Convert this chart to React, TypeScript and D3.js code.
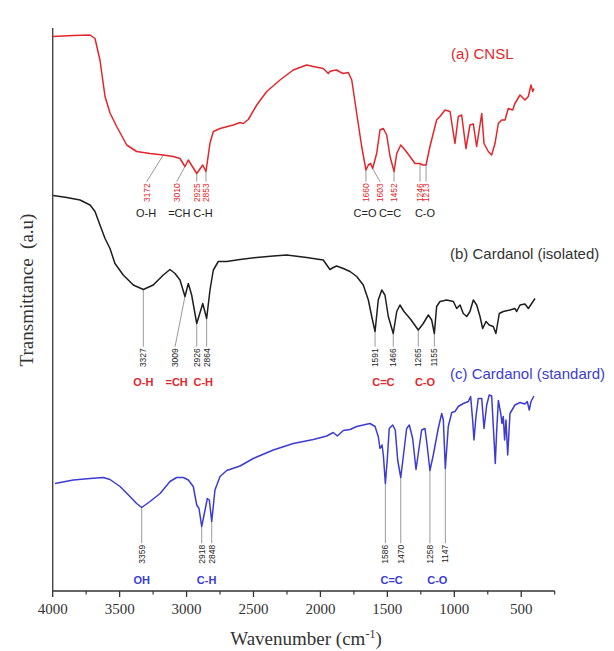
import React from "react";
import * as d3 from "d3";

type Pt = [number, number];
type Peak = { label: string; at: number; foot: number };
type Group = { text: string; at: number };

const xTicks = [4000, 3500, 3000, 2500, 2000, 1500, 1000, 500];
const xMinorTicks = [3750, 3250, 2750, 2250, 1750, 1250, 750, 250];

const seriesNames = ["(a) CNSL", "(b) Cardanol (isolated)", "(c) Cardanol (standard)"];

// (a) CNSL  [wavenumber, transmittance a.u.]
const cnsl: Pt[] = [
  [4000, 110.9], [3846, 111.1], [3721, 111.2], [3684, 110.5], [3647, 106.2], [3609, 98.9], [3572, 95.6],
  [3522, 92.9], [3447, 89.2], [3373, 87.9], [3273, 87.5], [3174, 87.2], [3099, 86.9], [3049, 86.5],
  [3012, 84.9], [2987, 86.2], [2924, 83.5], [2879, 85.2], [2855, 83.9], [2825, 89.6], [2800, 91.9],
  [2750, 92.5], [2651, 93.2], [2601, 93.7], [2576, 93.5], [2539, 94.3], [2476, 97.2], [2401, 99.9],
  [2302, 102.2], [2203, 104.2], [2103, 105.2], [2053, 104.9], [1979, 104.5], [1941, 103.5], [1929, 103.9],
  [1904, 104.1], [1879, 104.2], [1854, 103.8], [1829, 103.5], [1792, 103.7], [1766, 102.2], [1729, 95.5],
  [1692, 88.9], [1660, 84.2], [1642, 85.2], [1625, 85.5], [1610, 84.5], [1580, 87.5], [1555, 92.2],
  [1530, 92.5], [1505, 91.2], [1480, 86.9], [1450, 83.9], [1430, 87.5], [1400, 89.2], [1368, 88.2],
  [1331, 86.9], [1294, 85.5], [1256, 85.5], [1236, 85.2], [1211, 85.2], [1182, 88.9], [1132, 94.2],
  [1107, 94.9], [1069, 96.2], [1032, 95.9], [995, 89.5], [970, 94.9], [945, 95.2], [913, 88.5],
  [883, 93.2], [858, 93.4], [833, 88.9], [795, 95.5], [778, 89.5], [746, 87.9], [721, 87.2], [696, 89.5],
  [671, 93.5], [646, 94.2], [621, 94.2], [597, 96.5], [564, 96.2], [547, 97.5], [509, 99.2], [472, 98.2],
  [447, 98.9], [427, 101.2], [414, 99.9], [405, 100.5],
];

// (b) Cardanol (isolated)
const isolated: Pt[] = [
  [3996, 79.1], [3895, 78.7], [3796, 78.2], [3721, 77.2], [3684, 75.9], [3647, 73.2], [3609, 70.5],
  [3572, 68.5], [3535, 65.5], [3473, 63.2], [3398, 61.2], [3323, 60.3], [3249, 61.2], [3174, 63.2],
  [3124, 64.3], [3086, 63.5], [3049, 62.2], [3012, 58.9], [2987, 61.5], [2962, 59.2], [2924, 53.5],
  [2879, 57.5], [2850, 54.5], [2825, 60.2], [2800, 64.2], [2763, 65.9], [2700, 65.9], [2601, 66.3],
  [2476, 66.7], [2352, 67.0], [2252, 67.2], [2103, 66.7], [1979, 66.2], [1929, 64.3], [1904, 64.7],
  [1879, 65.0], [1829, 64.5], [1779, 63.9], [1729, 62.9], [1680, 61.2], [1642, 58.2], [1617, 54.9],
  [1592, 51.9], [1568, 58.2], [1542, 60.2], [1518, 59.2], [1493, 54.9], [1456, 51.5], [1430, 55.9],
  [1406, 57.2], [1376, 55.9], [1331, 54.5], [1269, 52.2], [1232, 53.5], [1194, 55.2], [1169, 54.2],
  [1149, 51.5], [1132, 56.9], [1107, 57.9], [1057, 58.2], [1007, 57.9], [982, 56.5], [957, 57.2],
  [933, 55.5], [907, 54.9], [883, 55.9], [858, 58.2], [833, 57.2], [808, 54.9], [788, 52.5], [763, 53.9],
  [739, 53.2], [709, 52.9], [689, 51.5], [664, 55.5], [634, 55.9], [584, 56.2], [547, 56.5], [534, 55.9],
  [509, 57.2], [472, 57.4], [447, 56.5], [422, 57.5], [397, 58.5],
];

// (c) Cardanol (standard)
const standard: Pt[] = [
  [3983, 21.5], [3846, 22.2], [3721, 22.5], [3622, 22.7], [3572, 22.3], [3497, 20.9], [3423, 18.9],
  [3373, 17.5], [3335, 16.7], [3273, 17.9], [3198, 19.5], [3124, 21.9], [3074, 22.7], [3024, 22.7],
  [2987, 22.2], [2950, 20.9], [2924, 17.2], [2907, 16.5], [2887, 12.9], [2862, 16.2], [2845, 18.5],
  [2830, 18.2], [2812, 13.9], [2788, 20.2], [2750, 22.9], [2700, 24.1], [2601, 25.0], [2502, 26.5],
  [2352, 28.2], [2203, 29.5], [2053, 30.3], [1953, 31.0], [1904, 31.7], [1874, 31.0], [1854, 31.5],
  [1829, 32.1], [1779, 32.3], [1729, 32.9], [1680, 33.2], [1630, 33.5], [1592, 32.9], [1568, 30.9],
  [1555, 28.5], [1540, 29.2], [1530, 27.2], [1515, 21.5], [1501, 26.2], [1486, 32.5], [1460, 33.2],
  [1441, 32.2], [1423, 26.2], [1400, 22.7], [1381, 26.9], [1356, 32.5], [1336, 33.2], [1311, 30.5],
  [1286, 24.3], [1269, 27.5], [1244, 32.2], [1219, 32.5], [1202, 28.9], [1182, 24.1], [1157, 27.2],
  [1120, 32.5], [1094, 35.5], [1082, 34.2], [1067, 24.5], [1045, 32.9], [1019, 35.7], [995, 35.9],
  [970, 36.9], [933, 37.5], [895, 37.9], [878, 38.9], [863, 34.2], [853, 30.2], [838, 34.9], [821, 38.5],
  [795, 38.5], [778, 32.5], [758, 37.2], [739, 39.2], [721, 39.0], [703, 30.2], [694, 25.5], [683, 32.2],
  [671, 38.1], [653, 35.5], [644, 33.5], [634, 34.9], [624, 30.2], [614, 34.2], [601, 27.2], [584, 35.5],
  [547, 37.2], [509, 37.7], [472, 37.4], [455, 37.9], [440, 36.2], [427, 37.9], [405, 39.0],
];

const cnslPeaks: Peak[] = [
  { label: "3172", at: 3174, foot: 3298 },
  { label: "3010", at: 3012, foot: 3074 },
  { label: "2925", at: 2924, foot: 2924 },
  { label: "2853", at: 2855, foot: 2855 },
  { label: "1660", at: 1660, foot: 1660 },
  { label: "1603", at: 1610, foot: 1555 },
  { label: "1452", at: 1450, foot: 1450 },
  { label: "1246", at: 1256, foot: 1256 },
  { label: "1213", at: 1211, foot: 1211 },
];
const isolatedPeaks: Peak[] = [
  { label: "3327", at: 3323, foot: 3323 },
  { label: "3009", at: 3012, foot: 3086 },
  { label: "2926", at: 2924, foot: 2924 },
  { label: "2864", at: 2850, foot: 2850 },
  { label: "1591", at: 1592, foot: 1592 },
  { label: "1466", at: 1456, foot: 1456 },
  { label: "1265", at: 1269, foot: 1269 },
  { label: "1155", at: 1149, foot: 1149 },
];
const standardPeaks: Peak[] = [
  { label: "3359", at: 3335, foot: 3335 },
  { label: "2918", at: 2887, foot: 2887 },
  { label: "2848", at: 2812, foot: 2812 },
  { label: "1586", at: 1515, foot: 1515 },
  { label: "1470", at: 1400, foot: 1400 },
  { label: "1258", at: 1182, foot: 1182 },
  { label: "1147", at: 1067, foot: 1067 },
];

const cnslGroups: Group[] = [
  { text: "O-H", at: 3303 }, { text: "=CH", at: 3054 }, { text: "C-H", at: 2877 },
  { text: "C=O", at: 1667 }, { text: "C=C", at: 1480 }, { text: "C-O", at: 1219 },
];
const isolatedGroups: Group[] = [
  { text: "O-H", at: 3323 }, { text: "=CH", at: 3074 }, { text: "C-H", at: 2875 },
  { text: "C=C", at: 1530 }, { text: "C-O", at: 1219 },
];
const standardGroups: Group[] = [
  { text: "OH", at: 3335 }, { text: "C-H", at: 2850 }, { text: "C=C", at: 1468 }, { text: "C-O", at: 1127 },
];

const RED = "#e3262b";
const BLACK = "#1e1e1e";
const BLUE = "#3c3cd2";
const SANS = "'Liberation Sans', Arial, sans-serif";
const SERIF = "'Liberation Serif', 'Times New Roman', serif";

const W = 614;
const H = 651;
const x = d3.scaleLinear().domain([4000, 250]).range([52.7, 554.7]);
const y = d3.scaleLinear().domain([0, 114]).range([591, 21]);

function valueAt(data: Pt[], wn: number): number {
  for (let i = 0; i < data.length - 1; i++) {
    const [w0, v0] = data[i];
    const [w1, v1] = data[i + 1];
    if (wn <= w0 && wn >= w1) {
      const t = (w0 - wn) / (w0 - w1 || 1);
      return v0 + t * (v1 - v0);
    }
  }
  return data[data.length - 1][1];
}

const lineGen = d3
  .line<Pt>()
  .x((d) => x(d[0]))
  .y((d) => y(d[1]));

type SeriesCfg = {
  name: string;
  data: Pt[];
  color: string;
  peaks: Peak[];
  groups: Group[];
  numColor: string;
  groupColor: string;
  groupWeight: string;
  footY: number;
  groupY: number;
  nameX: number;
  nameY: number;
};

const series: SeriesCfg[] = [
  { name: seriesNames[0], data: cnsl, color: RED, peaks: cnslPeaks, groups: cnslGroups, numColor: RED, groupColor: "#222", groupWeight: "normal", footY: 181.7, groupY: 216.5, nameX: 451, nameY: 59 },
  { name: seriesNames[1], data: isolated, color: BLACK, peaks: isolatedPeaks, groups: isolatedGroups, numColor: BLACK, groupColor: RED, groupWeight: "bold", footY: 346.7, groupY: 386, nameX: 450, nameY: 258.5 },
  { name: seriesNames[2], data: standard, color: BLUE, peaks: standardPeaks, groups: standardGroups, numColor: BLACK, groupColor: BLUE, groupWeight: "bold", footY: 543.3, groupY: 583.5, nameX: 450, nameY: 378.5 },
];

export default function App() {
  const axisY = 591;
  return (
    <svg
      width={W}
      height={H}
      viewBox={`0 0 ${W} ${H}`}
      style={{ position: "absolute", left: 0, top: 0, background: "#fff" }}
    >
      <rect x={0} y={0} width={W} height={H} fill="#fff" />
      <line x1={x(4000)} x2={x(4000)} y1={28} y2={axisY} stroke="#444" strokeWidth={1.4} />
      <line x1={x(4000)} x2={x(250)} y1={axisY} y2={axisY} stroke="#333" strokeWidth={1.4} />
      {xTicks.map((t) => (
        <g key={t}>
          <line x1={x(t)} x2={x(t)} y1={axisY} y2={axisY + 6} stroke="#333" strokeWidth={1.3} />
          <text x={x(t)} y={614} textAnchor="middle" fontFamily={SERIF} fontSize={15} fill="#333">
            {t}
          </text>
        </g>
      ))}
      {xMinorTicks.map((t) => (
        <line key={t} x1={x(t)} x2={x(t)} y1={axisY} y2={axisY + 3.5} stroke="#333" strokeWidth={1.2} />
      ))}
      <text x={306} y={645} textAnchor="middle" fontFamily={SERIF} fontSize={19} fill="#333">
        Wavenumber{"\u00a0"}(cm
        <tspan dy={-7} fontSize={12}>-1</tspan>
        <tspan dy={7}>)</tspan>
      </text>
      <text
        transform={`translate(26, 290) rotate(-90)`}
        textAnchor="middle"
        dy="0.35em"
        fontFamily={SERIF}
        fontSize={19}
        fill="#333"
      >
        Transmittance{"\u00a0\u00a0"}(a.u)
      </text>

      {series.map((s) => (
        <g key={s.name}>
          {s.peaks.map((p) => (
            <line
              key={p.label}
              x1={x(p.at)}
              y1={y(valueAt(s.data, p.at))}
              x2={x(p.foot)}
              y2={s.footY}
              stroke="#9a9a9a"
              strokeWidth={1}
            />
          ))}
          <path d={lineGen(s.data) || ""} fill="none" stroke={s.color} strokeWidth={1.5} strokeLinejoin="round" />
          {s.peaks.map((p) => (
            <text
              key={"t" + p.label}
              transform={`translate(${x(p.foot)}, ${s.footY + 1.5}) rotate(-90)`}
              textAnchor="end"
              dy="0.35em"
              fontFamily={SANS}
              fontSize={8.5}
              fill={s.numColor}
            >
              {p.label}
            </text>
          ))}
          {s.groups.map((g) => (
            <text
              key={"g" + g.text}
              x={x(g.at)}
              y={s.groupY}
              textAnchor="middle"
              fontFamily={SANS}
              fontSize={11}
              fontWeight={s.groupWeight}
              fill={s.groupColor}
            >
              {g.text}
            </text>
          ))}
          <text x={s.nameX} y={s.nameY} fontFamily={SANS} fontSize={15} fill={s.color === BLACK ? "#333" : s.color}>
            {s.name}
          </text>
        </g>
      ))}
    </svg>
  );
}
